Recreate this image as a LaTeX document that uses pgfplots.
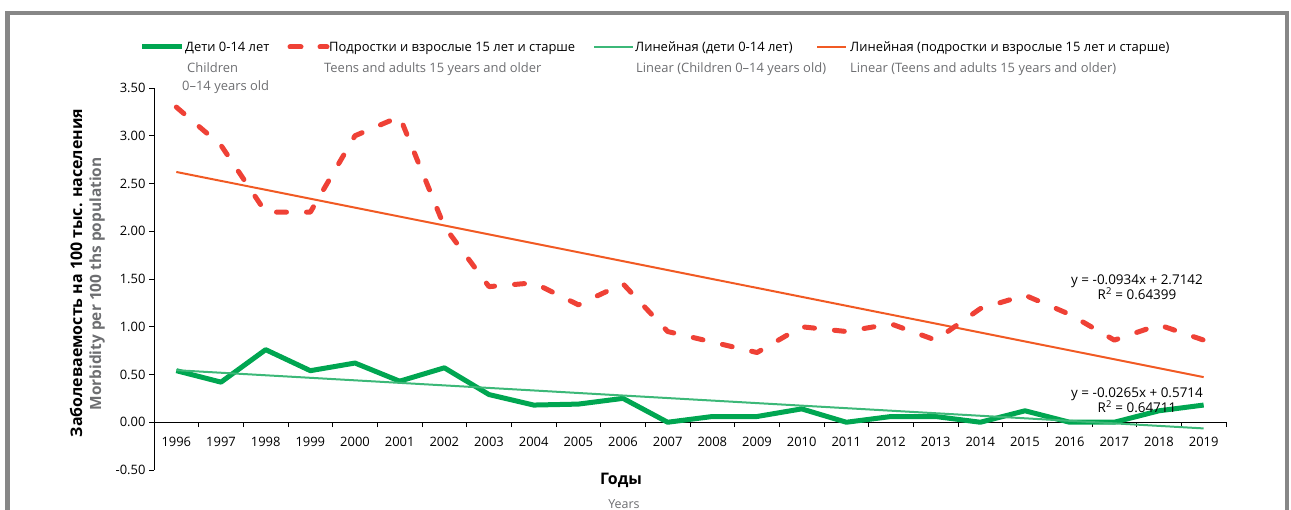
\documentclass[border=0pt]{standalone}
\usepackage{pgfplots}
\pgfplotsset{compat=1.18}
\usepackage{pgfplotstable}
\usepackage{fontspec}
\setmainfont{Open Sans}

\definecolor{kidgreen}{RGB}{0,166,81}
\definecolor{adultred}{RGB}{239,65,54}
\definecolor{trendgreen}{RGB}{60,184,120}
\definecolor{trendorange}{RGB}{241,90,36}
\definecolor{subgray}{RGB}{109,110,113}
\definecolor{framegray}{RGB}{135,135,135}

% Morbidity per 100 thousand population, 1996-2019 (index 0 = 1996)
\pgfplotstableread{
idx children adults
0  0.54 3.30
1  0.42 2.90
2  0.76 2.20
3  0.54 2.20
4  0.62 3.00
5  0.43 3.20
6  0.57 2.05
7  0.29 1.42
8  0.18 1.46
9  0.19 1.23
10 0.25 1.45
11 0.00 0.95
12 0.06 0.84
13 0.06 0.73
14 0.14 1.00
15 0.00 0.95
16 0.06 1.03
17 0.06 0.86
18 0.00 1.19
19 0.12 1.33
20 0.00 1.13
21 0.00 0.86
22 0.12 1.02
23 0.18 0.86
}\morbidity

% Linear trends y = a*x + b with x = 1..24
\pgfplotstableread{
idx children adults
0  0.5449 2.6208
23 -0.0646 0.4726
}\trends

\newcommand\lgd{\fontsize{13}{15}\selectfont}

\begin{document}
\begin{tikzpicture}
\useasboundingbox (0bp,0bp) rectangle (1291bp,510bp);
\draw[framegray, line width=4.5bp] (7.5bp,-20bp) -- (7.5bp,497bp) -- (1287bp,497bp) -- (1287bp,-20bp);

\begin{axis}[
  at={(154bp,40bp)}, anchor=south west,
  scale only axis, width=1072bp, height=382bp,
  xmin=-0.5, xmax=23.5, ymin=-0.5, ymax=3.5,
  axis x line*=middle, axis y line*=left,
  axis line style={black, line width=0.9bp, -},
  xtick={0,...,23},
  xticklabels={1996,1997,1998,1999,2000,2001,2002,2003,2004,2005,2006,2007,2008,2009,2010,2011,2012,2013,2014,2015,2016,2017,2018,2019},
  major x tick style={draw=none},
  minor xtick={-0.5,0.5,...,23.5},
  minor x tick style={black, line width=0.9bp},
  minor tick length=5bp,
  xtick align=outside,
  ytick={-0.5,0,...,3.5},
  ytick align=outside, ytick pos=left,
  major tick length=5bp,
  y tick style={black, line width=0.9bp},
  tick label style={font=\lgd},
  xticklabel style={yshift=-6bp},
  yticklabel={\pgfmathprintnumber[fixed,fixed zerofill,precision=2,assume math mode=true]{\tick}},
  clip=false,
]
\addplot[trendorange, line width=2bp] table[x=idx, y=adults] {\trends};
\addplot[adultred, line width=5bp, dash pattern=on 10bp off 20bp, line cap=round, line join=round] table[x=idx, y=adults] {\morbidity};
\addplot[kidgreen, line width=5bp, line join=round] table[x=idx, y=children] {\morbidity};
\addplot[trendgreen, line width=2bp] table[x=idx, y=children] {\trends};
\end{axis}

% legend
\draw[kidgreen, line width=5bp] (142bp,463bp) -- (182bp,463bp);
\node[anchor=base west, inner sep=0] at (185bp,458bp) {\lgd Дети 0-14 лет};
\node[anchor=base west, inner sep=0, text=subgray] at (187bp,437.5bp) {\lgd Children};
\node[anchor=base west, inner sep=0, text=subgray] at (182bp,419bp) {\lgd 0–14 years old};

\draw[adultred, line width=5bp, dash pattern=on 11bp off 19bp, line cap=round] (290bp,463bp) -- (327bp,463bp);
\node[anchor=base west, inner sep=0] at (329bp,458bp) {\lgd Подростки и взрослые 15 лет и старше};
\node[anchor=base west, inner sep=0, text=subgray] at (324bp,437.5bp) {\lgd Teens and adults 15 years and older};

\draw[trendgreen, line width=2bp] (594bp,463bp) -- (633bp,463bp);
\node[anchor=base west, inner sep=0] at (635bp,458bp) {\lgd Линейная (дети 0-14 лет)};
\node[anchor=base west, inner sep=0, text=subgray] at (636bp,437.5bp) {\lgd Linear (Children 0–14 years old)};

\draw[trendorange, line width=2bp] (817bp,463bp) -- (846bp,463bp);
\node[anchor=base west, inner sep=0] at (850bp,458bp) {\lgd Линейная (подростки и взрослые 15 лет и старше)};
\node[anchor=base west, inner sep=0, text=subgray] at (850bp,437.5bp) {\lgd Linear (Teens and adults 15 years and older)};

% trend equations
\node[align=center, inner sep=0, font=\fontsize{13.5}{15.5}\selectfont, text depth=0pt] at (1137bp,223bp) {y = -0.0934x + 2.7142\\R\textsuperscript{2} = 0.64399};
\node[align=center, inner sep=0, font=\fontsize{13.5}{15.5}\selectfont, text depth=0pt] at (1137bp,110bp) {y = -0.0265x + 0.5714\\R\textsuperscript{2} = 0.64711};

% axis titles
\node[rotate=90, inner sep=0] at (76bp,237bp) {\bfseries\fontsize{16}{18}\selectfont Заболеваемость на 100 тыс. населения};
\node[rotate=90, inner sep=0, text=subgray] at (97bp,226bp) {\bfseries\fontsize{15.5}{17}\selectfont Morbidity per 100 ths population};
\node[inner sep=0] at (621bp,30bp) {\bfseries\fontsize{16}{18}\selectfont Годы};
\node[inner sep=0, text=subgray] at (624bp,6bp) {\fontsize{12.5}{14}\selectfont Years};
\end{tikzpicture}
\end{document}
